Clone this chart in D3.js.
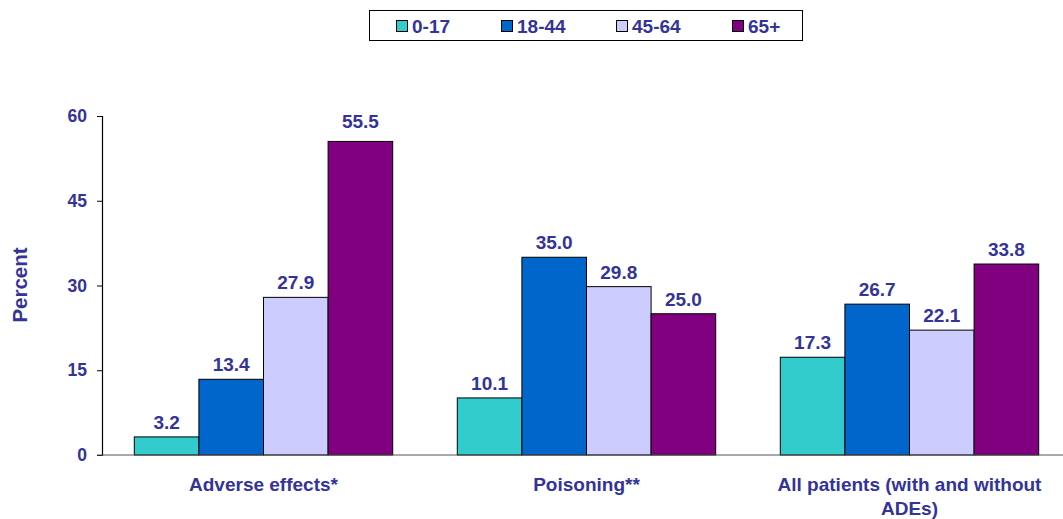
<!DOCTYPE html>
<html><head><meta charset="utf-8">
<script src="https://cdn.jsdelivr.net/npm/d3@7"></script>
<style>body{margin:0;background:#fff}svg{display:block}text{font-family:"Liberation Sans",Arial,sans-serif;font-weight:bold;fill:#333399}</style>
</head><body><svg id="c" width="1063" height="519"></svg>
<script>
const categories = ["Adverse effects*", "Poisoning**", "All patients (with and without ADEs)"];
const categoryLines = [["Adverse effects*"], ["Poisoning**"], ["All patients (with and without", "ADEs)"]];
const seriesNames = ["0-17", "18-44", "45-64", "65+"];
const seriesColors = ["#33CCCC", "#0066CC", "#CCCCFF", "#800080"];
const values017 = [3.2, 10.1, 17.3];
const values1844 = [13.4, 35.0, 26.7];
const values4564 = [27.9, 29.8, 22.1];
const values65 = [55.5, 25.0, 33.8];
const yTicks = [0, 15, 30, 45, 60];
const seriesValues = [values017, values1844, values4564, values65];

const svg = d3.select("#c");
const x0 = d3.scaleBand().domain(categories).range([102, 1071]).paddingInner(0.2).paddingOuter(0.1);
const x1 = d3.scaleBand().domain(seriesNames).range([0, x0.bandwidth()]);
const y = d3.scaleLinear().domain([0, 60]).range([455, 116]);

// bars
categories.forEach((c, ci) => {
  seriesNames.forEach((s, si) => {
    const v = seriesValues[si][ci];
    svg.append("rect")
      .attr("x", x0(c) + x1(s)).attr("y", y(v))
      .attr("width", x1.bandwidth()).attr("height", y(0) - y(v))
      .attr("fill", seriesColors[si]).attr("stroke", "#000").attr("stroke-width", 1);
    const ly = y(v) - 8;
    svg.append("text").attr("x", x0(c) + x1(s) + x1.bandwidth() / 2)
      .attr("y", ly < 140 ? ly - 5 : ly)
      .attr("text-anchor", "middle").attr("font-size", 19).text(v.toFixed(1));
  });
});

// y axis
const yAxis = svg.append("g").attr("transform", "translate(102,0)")
  .call(d3.axisLeft(y).tickValues(yTicks).tickSize(5).tickPadding(10));
yAxis.select(".domain").attr("stroke", "#000").attr("stroke-width", 1.2);
yAxis.selectAll(".tick line").attr("stroke", "#000");
yAxis.selectAll(".tick text").attr("font-size", 17.5).attr("font-family", "Liberation Sans, Arial, sans-serif").attr("font-weight", "bold").attr("fill", "#333399");

// x axis line
svg.append("line").attr("x1", 97).attr("x2", 1063).attr("y1", y(0)).attr("y2", y(0)).attr("stroke", "#555").attr("stroke-width", 1.2);

// category labels
categories.forEach((c, ci) => {
  const t = svg.append("text").attr("x", x0(c) + x0.bandwidth() / 2).attr("y", 491)
    .attr("text-anchor", "middle").attr("font-size", 19);
  categoryLines[ci].forEach((l, li) => {
    t.append("tspan").attr("x", x0(c) + x0.bandwidth() / 2).attr("dy", li === 0 ? 0 : 24).text(l);
  });
});

// y title
svg.append("text").attr("transform", "translate(27,285) rotate(-90)").attr("text-anchor", "middle")
  .attr("font-size", 20.5).text("Percent");

// legend
svg.append("rect").attr("x", 369.5).attr("y", 10.5).attr("width", 433).attr("height", 30)
  .attr("fill", "#fff").attr("stroke", "#000").attr("stroke-width", 1);
const legX = [396, 501, 616, 732];
seriesNames.forEach((s, i) => {
  svg.append("rect").attr("x", legX[i] + 0.5).attr("y", 20.5).attr("width", 11).attr("height", 11)
    .attr("fill", seriesColors[i]).attr("stroke", "#000").attr("stroke-width", 1);
  svg.append("text").attr("x", legX[i] + 16).attr("y", 32.5).attr("font-size", 19).text(s);
});
</script></body></html>
